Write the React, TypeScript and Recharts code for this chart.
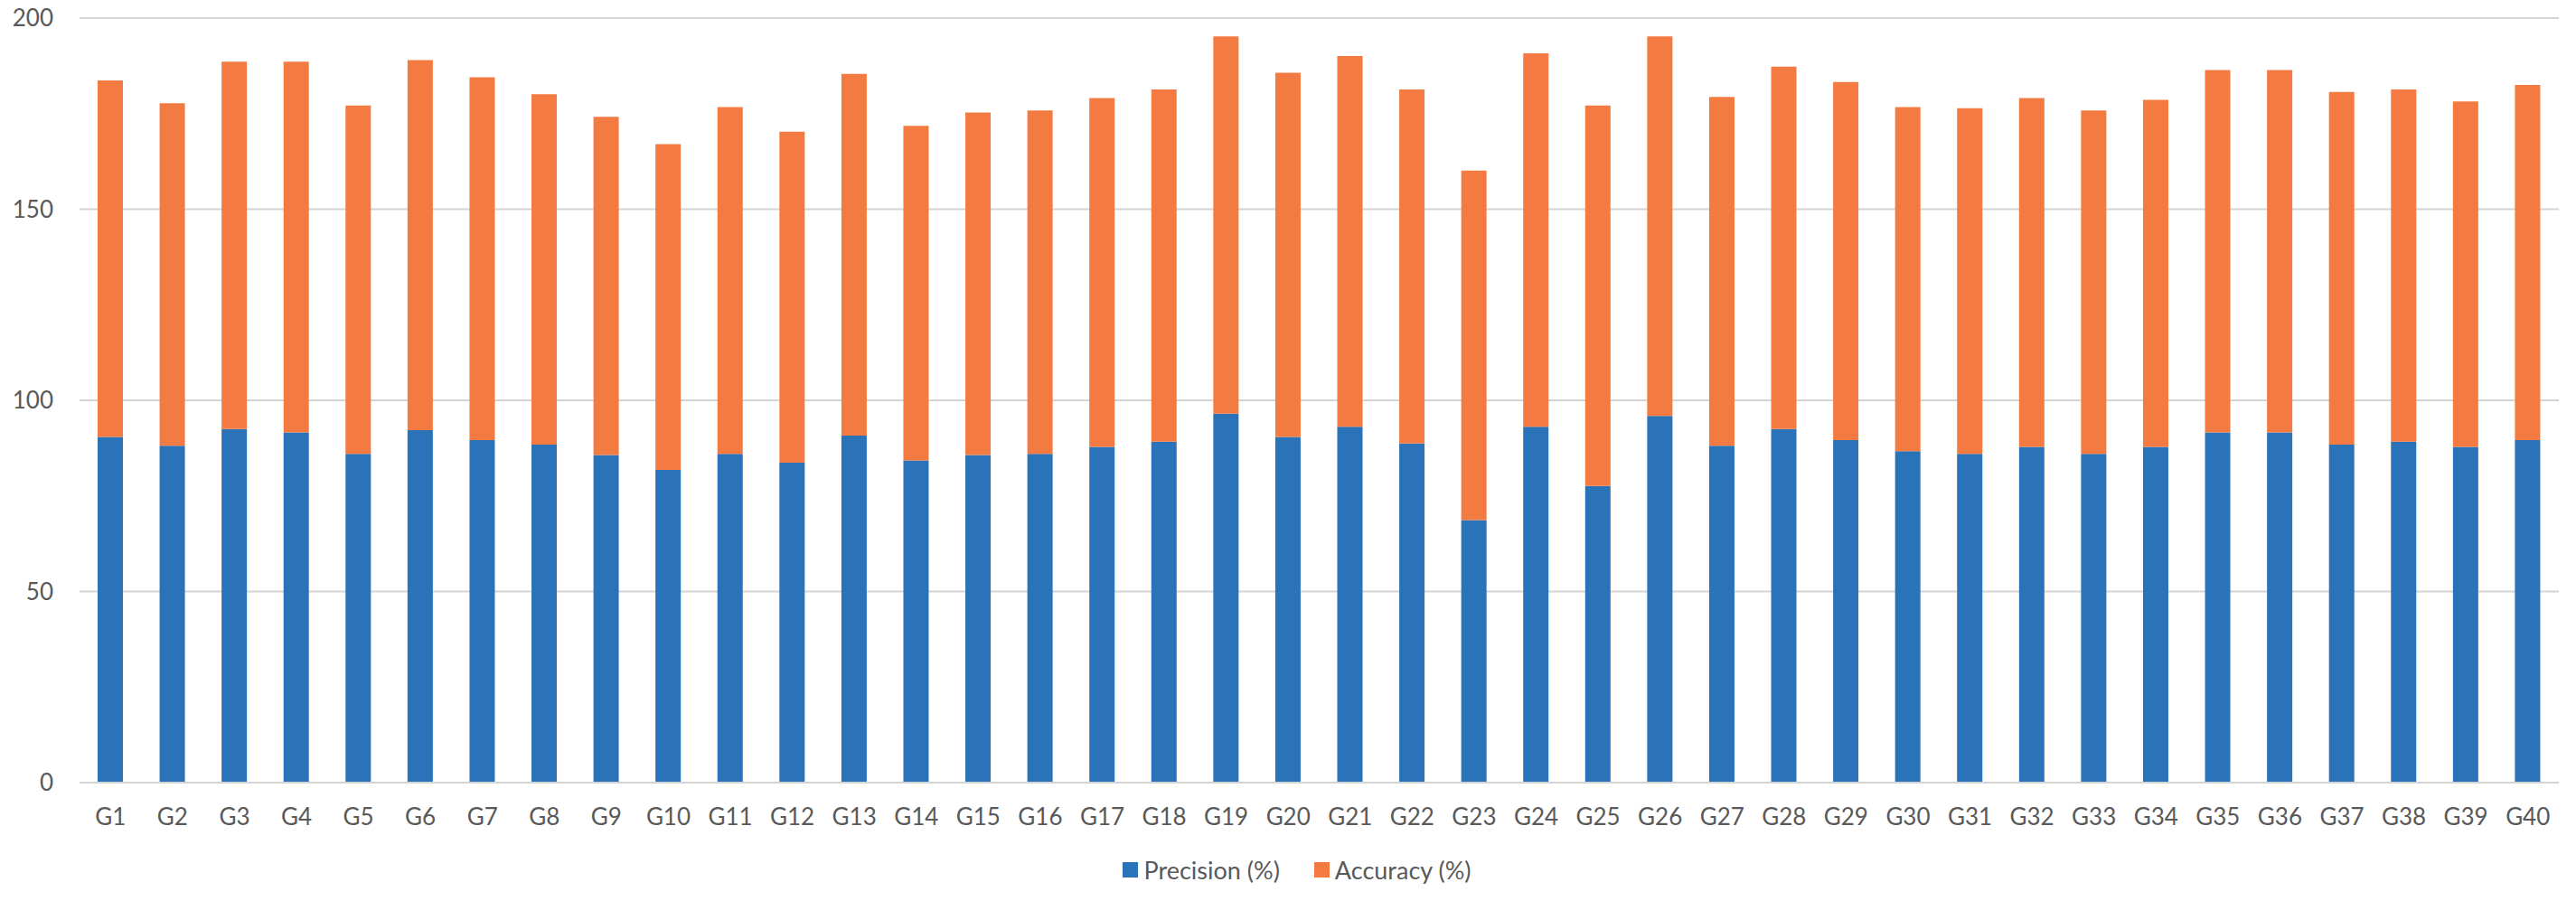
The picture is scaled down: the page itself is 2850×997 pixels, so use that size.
import React from "react";
import { Bar, BarChart, CartesianGrid, Legend, XAxis, YAxis } from "recharts";

const groups = [
  "G1", "G2", "G3", "G4", "G5", "G6", "G7", "G8", "G9", "G10",
  "G11", "G12", "G13", "G14", "G15", "G16", "G17", "G18", "G19", "G20",
  "G21", "G22", "G23", "G24", "G25", "G26", "G27", "G28", "G29", "G30",
  "G31", "G32", "G33", "G34", "G35", "G36", "G37", "G38", "G39", "G40",
];

const precision = [
  90.4, 88.1, 92.5, 91.6, 86.0, 92.2, 89.6, 88.4, 85.7, 81.8,
  86.0, 83.7, 90.8, 84.3, 85.7, 86.0, 87.8, 89.2, 96.5, 90.4,
  93.1, 88.7, 68.7, 93.1, 77.6, 95.9, 88.1, 92.5, 89.6, 86.7,
  86.0, 87.8, 86.0, 87.8, 91.6, 91.6, 88.4, 89.2, 87.8, 89.6,
];

const accuracy = [
  93.3, 89.6, 96.1, 97.0, 91.1, 96.8, 94.9, 91.7, 88.5, 85.2,
  90.7, 86.6, 94.6, 87.5, 89.6, 89.8, 91.3, 92.1, 98.7, 95.3,
  97.0, 92.6, 91.4, 97.7, 99.5, 99.3, 91.3, 94.8, 93.7, 90.0,
  90.4, 91.3, 89.8, 90.8, 94.8, 94.8, 92.3, 92.1, 90.4, 92.9,
];

const yTicks = [0, 50, 100, 150, 200];

const BLUE = "#2A73B9";
const ORANGE = "#F37B41";
const GRID = "#D4D4D4";
const TEXT = "#595959";
const FONT = "Lato, 'Open Sans', sans-serif";

const data = groups.map((g, i) => ({
  name: g,
  precision: precision[i],
  accuracy: accuracy[i],
}));

const legendItems = [
  { label: "Precision (%)", color: BLUE },
  { label: "Accuracy (%)", color: ORANGE },
];

function LegendContent() {
  return (
    <div
      style={{
        height: "100%",
        boxSizing: "border-box",
        paddingTop: 12,
        paddingLeft: 20,
        display: "flex",
        alignItems: "center",
        justifyContent: "center",
        gap: 38,
        fontFamily: FONT,
        fontSize: 27,
        color: TEXT,
      }}
    >
      {legendItems.map((item) => (
        <div key={item.label} style={{ display: "flex", alignItems: "center", gap: 6 }}>
          <div style={{ width: 17, height: 17, background: item.color }} />
          <span>{item.label}</span>
        </div>
      ))}
    </div>
  );
}

export default function App() {
  return (
    <div style={{ position: "absolute", left: 0, top: 0, width: 2850, height: 997, background: "#fff" }}>
      <BarChart
        width={2850}
        height={997}
        data={data}
        margin={{ top: 20, right: 19, bottom: 11, left: 0 }}
        barSize={28}
      >
        <CartesianGrid vertical={false} stroke={GRID} strokeWidth={2} />
        <XAxis
          dataKey="name"
          height={60}
          interval={0}
          axisLine={{ stroke: GRID, strokeWidth: 2 }}
          tickLine={false}
          tickSize={6}
          tickMargin={23}
          tick={{ fill: TEXT, fontSize: 26, fontFamily: FONT }}
        />
        <YAxis
          width={88}
          domain={[0, 200]}
          ticks={yTicks}
          axisLine={false}
          tickLine={false}
          tickSize={6}
          tickMargin={23}
          tick={{ fill: TEXT, fontSize: 26, fontFamily: FONT }}
        />
        <Legend
          verticalAlign="bottom"
          height={60}
          wrapperStyle={{ left: 0, width: 2850 }}
          content={() => <LegendContent />}
        />
        <Bar dataKey="precision" name="Precision (%)" stackId="a" fill={BLUE} isAnimationActive={false} />
        <Bar dataKey="accuracy" name="Accuracy (%)" stackId="a" fill={ORANGE} isAnimationActive={false} />
      </BarChart>
    </div>
  );
}
